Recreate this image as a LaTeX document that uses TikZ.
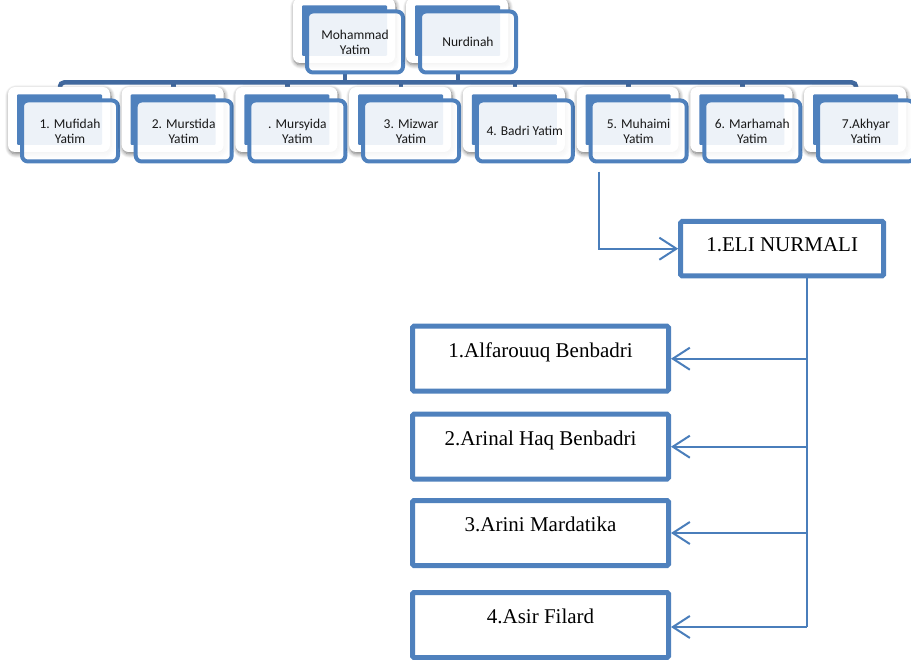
\documentclass[tikz,border=0pt]{standalone}
\usepackage{fontspec}
\setmainfont{Liberation Serif}
\newfontfamily\cardfont{Carlito}
\usetikzlibrary{arrows.meta,shadows.blur}
\definecolor{acc}{HTML}{4F81BD}
\definecolor{barc}{HTML}{41699F}
\definecolor{arrc}{HTML}{4A7EBB}
\pgfdeclarelayer{bg}
\pgfsetlayers{bg,main}
\newcommand{\famcard}[4]{%
  \path[shadowcard] (#2-14,#3-13.5) rectangle (#2+88,#3+51.5);
  \path[blueback] (#2-5,#3-6) rectangle (#2+80,#3+44.5);
  \node[frontcard] (#1) at (#2+48,#3+30.5) {#4};
  \coordinate (#1top) at (#2+38,#3);
  \coordinate (#1bot) at (#2+38,#3+61);
}
\begin{document}
\begin{tikzpicture}[x=1pt,y=-1pt,
  shadowcard/.style={fill=white, rounded corners=7pt,
    blur shadow={shadow xshift=1pt, shadow yshift=-2pt, shadow blur radius=4pt,
      shadow blur steps=10, shadow opacity=55}},
  blueback/.style={fill=acc, rounded corners=1pt},
  frontcard/.style={draw=acc, line width=4pt, fill=white, fill opacity=0.9, text opacity=1,
    rounded corners=6pt, minimum width=96pt, minimum height=61pt, inner sep=0pt, align=center,
    font=\cardfont\fontsize{13.5}{15}\selectfont, text=black!90},
  barline/.style={draw=barc, line width=4.5pt},
  namebox/.style={draw=acc, line width=5pt, rounded corners=1.5pt, fill=white,
    font=\fontsize{21}{25}\selectfont, inner sep=0pt},
  kidbox/.style={namebox, minimum width=256pt, minimum height=65pt, text height=14.5pt, text depth=17pt},
  arr/.style={draw=arrc, line width=2pt, -{Straight Barb[length=17pt,width=22pt]}},
  spineline/.style={draw=arrc, line width=2pt}
]
\useasboundingbox (0,0) rectangle (911,660);

% parents
\famcard{p1}{307}{11.5}{Mohammad\\Yatim}
\famcard{p2}{420}{11.5}{Nurdinah}

% children
\famcard{c1}{22}{100.5}{1. Mufidah\\Yatim}
\famcard{c2}{135.7}{100.5}{2. Murstida\\Yatim}
\famcard{c3}{249.4}{100.5}{. Mursyida\\Yatim}
\famcard{c4}{363.1}{100.5}{3. Mizwar\\Yatim}
\famcard{c5}{476.8}{100.5}{4. Badri Yatim}
\famcard{c6}{590.6}{100.5}{5. Muhaimi\\Yatim}
\famcard{c7}{704.3}{100.5}{6. Marhamah\\Yatim}
\famcard{c8}{818}{100.5}{7.Akhyar\\Yatim}

% connectors of the top chart
\begin{pgfonlayer}{bg}
  \coordinate (bar) at (0,82.5);
  \draw[barline, rounded corners=4pt] (c1top) |- (c8top |- bar) -- (c8top);
  \foreach \i in {2,...,7} \draw[barline] (c\i top) -- (c\i top |- bar);
  \draw[barline] (p1bot) -- (p1bot |- bar);
  \draw[barline] (p2bot) -- (p2bot |- bar);
\end{pgfonlayer}

% lower part
\node[namebox, minimum width=203pt, minimum height=54.5pt, text height=14.5pt, text depth=8.5pt]
  (eli) at (782.2,248.7) {1.ELI NURMALI};
\node[kidbox] (k1) at (540.5,358.7) {1.Alfarouuq Benbadri};
\node[kidbox] (k2) at (540.5,446.7) {2.Arinal Haq Benbadri};
\node[kidbox] (k3) at (540.5,533) {3.Arini Mardatika};
\node[kidbox] (k4) at (540.5,625) {4.Asir Filard};

\coordinate (m5) at (599.3,171.7);
\coordinate (spine) at (806.7,0);
\draw[arr] (m5) |- (eli.west);
\draw[spineline] (eli.south -| spine) -- ([yshift=-2pt]spine |- k4.east);
\draw[arr] (spine |- k1.east) -- (k1.east);
\draw[arr] (spine |- k2.east) -- (k2.east);
\draw[arr] (spine |- k3.east) -- (k3.east);
\draw[arr] ([yshift=-2pt]spine |- k4.east) -- ([yshift=-2pt]k4.east);
\end{tikzpicture}
\end{document}
